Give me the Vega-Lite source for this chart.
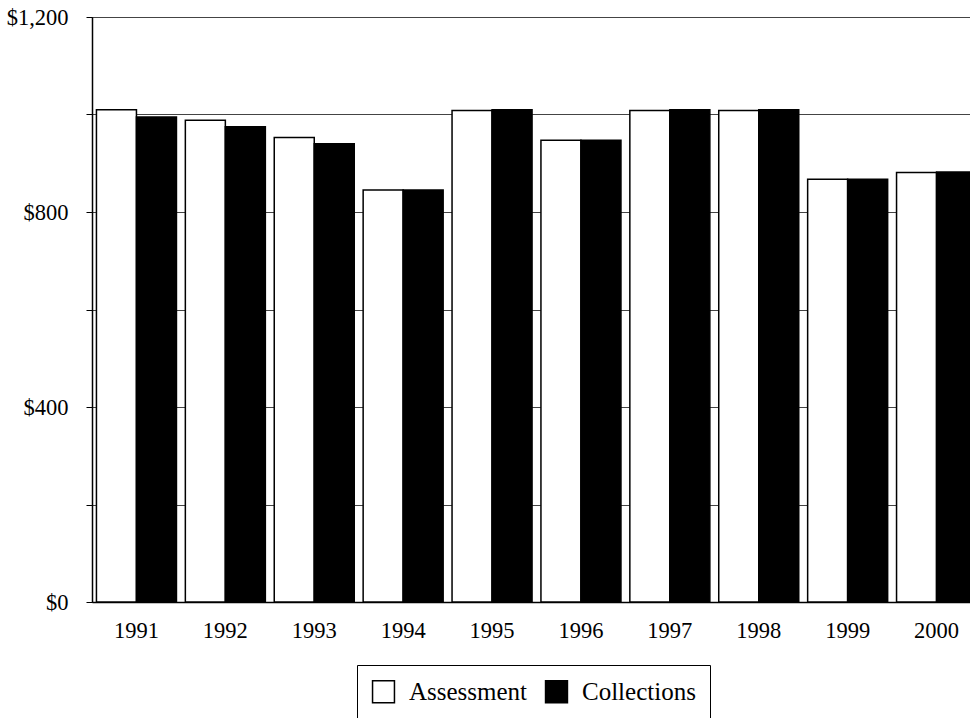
{
  "$schema": "https://vega.github.io/schema/vega-lite/v6.json",
  "width": 889,
  "height": 585,
  "autosize": "none",
  "padding": {"left": 92, "top": 17, "right": 0, "bottom": 116},
  "background": "white",
  "config": {
    "font": "Liberation Serif",
    "view": {"stroke": "black", "strokeWidth": 1}
  },
  "data": {
    "values": [
      {"year": "1991", "series": "Assessment", "value": 1010},
      {"year": "1991", "series": "Collections", "value": 995},
      {"year": "1992", "series": "Assessment", "value": 988},
      {"year": "1992", "series": "Collections", "value": 975},
      {"year": "1993", "series": "Assessment", "value": 953},
      {"year": "1993", "series": "Collections", "value": 940},
      {"year": "1994", "series": "Assessment", "value": 845},
      {"year": "1994", "series": "Collections", "value": 845},
      {"year": "1995", "series": "Assessment", "value": 1008},
      {"year": "1995", "series": "Collections", "value": 1010},
      {"year": "1996", "series": "Assessment", "value": 947},
      {"year": "1996", "series": "Collections", "value": 947},
      {"year": "1997", "series": "Assessment", "value": 1008},
      {"year": "1997", "series": "Collections", "value": 1010},
      {"year": "1998", "series": "Assessment", "value": 1008},
      {"year": "1998", "series": "Collections", "value": 1010},
      {"year": "1999", "series": "Assessment", "value": 867},
      {"year": "1999", "series": "Collections", "value": 867},
      {"year": "2000", "series": "Assessment", "value": 881},
      {"year": "2000", "series": "Collections", "value": 882}
    ]
  },
  "mark": {"type": "bar", "stroke": "black", "strokeWidth": 1.5},
  "encoding": {
    "x": {
      "field": "year",
      "type": "nominal",
      "title": null,
      "scale": {"paddingInner": 0.1, "paddingOuter": 0.05},
      "axis": {
        "labelAngle": 0,
        "labelFontSize": 22.5,
        "labelColor": "black",
        "labelPadding": 17,
        "ticks": false,
        "domainColor": "black",
        "domainWidth": 1.5,
        "grid": false
      }
    },
    "xOffset": {"field": "series", "type": "nominal", "sort": ["Assessment", "Collections"]},
    "y": {
      "field": "value",
      "type": "quantitative",
      "title": null,
      "scale": {"domain": [0, 1200], "nice": false},
      "axis": {
        "values": [0, 200, 400, 600, 800, 1000, 1200],
        "labelExpr": "datum.value % 400 == 0 ? '$' + format(datum.value, ',') : ''",
        "labelFontSize": 22.5,
        "labelColor": "black",
        "labelPadding": 18,
        "tickColor": "black",
        "tickSize": 6,
        "domainColor": "black",
        "domainWidth": 1.5,
        "grid": true,
        "gridColor": "#444444",
        "gridWidth": 1
      }
    },
    "fill": {
      "field": "series",
      "type": "nominal",
      "title": null,
      "scale": {"domain": ["Assessment", "Collections"], "range": ["white", "black"]},
      "legend": {
        "orient": "none",
        "legendX": 265,
        "legendY": 648,
        "direction": "horizontal",
        "symbolType": "square",
        "symbolSize": 480,
        "symbolStrokeColor": "black",
        "symbolStrokeWidth": 1.5,
        "labelFontSize": 25,
        "labelFont": "Liberation Serif",
        "labelColor": "black",
        "labelOffset": 13,
        "columnPadding": 14,
        "padding": 14,
        "strokeColor": "black",
        "fillColor": "white"
      }
    }
  }
}
